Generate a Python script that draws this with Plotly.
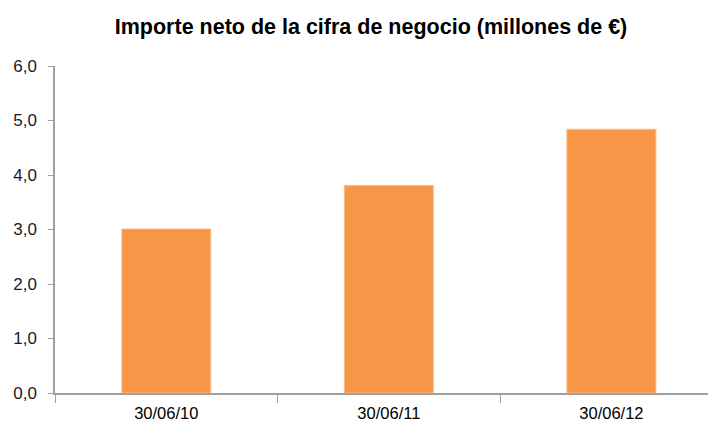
import plotly.graph_objects as go

# Datos del gráfico
fechas = ["30/06/10", "30/06/11", "30/06/12"]
importe = [3.01, 3.81, 4.84]
ticks_y = [0, 1, 2, 3, 4, 5, 6]

fig = go.Figure()

fig.add_trace(go.Bar(
    x=fechas,
    y=importe,
    width=0.4,
    marker=dict(color="#F79646", line=dict(color="#FAC090", width=1)),
))

# el body de la página añade 8 px de margen, se compensa aquí
fig.update_layout(
    width=716,
    height=427,
    margin=dict(l=47, r=8, t=58, b=42),
    paper_bgcolor="white",
    plot_bgcolor="white",
    separators=",.",
    showlegend=False,
    title=dict(
        text="<b>Importe neto de la cifra de negocio (millones de €)</b>",
        x=0.507,
        xanchor="center",
        y=0.956,
        yanchor="middle",
        font=dict(family="Liberation Sans, Arial", size=21.5, color="#000000"),
    ),
)

fig.update_xaxes(
    range=[-0.5, 2.47],
    automargin=False,
    showline=True,
    linecolor="#a0a0a0",
    linewidth=1.5,
    ticks="outside",
    ticklen=8,
    tickcolor="#a0a0a0",
    tickson="boundaries",
    ticklabelstandoff=4,
    showgrid=False,
    tickfont=dict(family="Liberation Sans, Arial", size=16.5, color="#000000"),
)

fig.update_yaxes(
    range=[0, 6],
    automargin=False,
    tickvals=ticks_y,
    tickformat=".1f",
    showline=True,
    linecolor="#a0a0a0",
    linewidth=1.5,
    ticks="outside",
    ticklen=5,
    tickcolor="#a0a0a0",
    ticklabelstandoff=8,
    showgrid=False,
    zeroline=False,
    tickfont=dict(family="Liberation Sans, Arial", size=17, color="#1a1a1a"),
)

fig.write_html("out.html")
